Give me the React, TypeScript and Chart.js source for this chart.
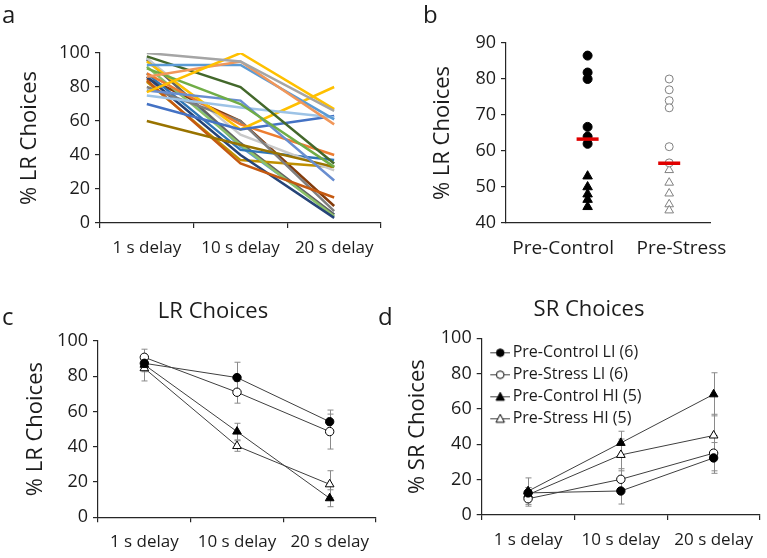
import React, { useEffect, useRef } from 'react';
import { Chart, registerables } from 'chart.js';

Chart.register(...registerables);

const FONT = "'Open Sans', sans-serif";
const TEXT = '#1c1c1c';
const AXIS = '#262626';
const LINE = '#3f3f3f';

// ---------- Panel a: individual animals ----------
const delayLabels = ['1 s delay', '10 s delay', '20 s delay'];
const subjectColors = [
  '#A5A5A5', '#FFC000', '#F1975A', '#5B9BD5', '#43682B', '#70AD47',
  '#698ED0', '#9DC3E6', '#4472C4', '#997300', '#FFC000', '#ED7D31',
  '#C55A11', '#7F7F7F', '#C9C9C9', '#2E75B6', '#264478', '#8CC168',
  '#BF9000', '#843C0C', '#636363', '#5B9BD5',
];
const subjectLR: number[][] = [
  [100, 95, 66], [77, 100, 67], [86, 95, 58], [93, 93, 61],
  [98, 80, 35], [91, 70, 33], [78, 72, 25], [75, 68, 62],
  [70, 55, 63], [60, 46, 33], [95, 55, 80], [88, 58, 40],
  [84, 35, 15], [80, 60, 7], [97, 52, 31], [88, 43, 37],
  [86, 40, 3], [92, 46, 4], [83, 37, 33], [85, 60, 10],
  [96, 47, 5], [97, 45, 5],
];

// ---------- Panel b: group scatter ----------
const bGroups = ['Pre-Control', 'Pre-Stress'];
const bLabelX = [0.28, 0.86];
const bPointX = [0.4, 0.8];
const preControlLI = [86.5, 81.8, 80, 66.7, 64, 62];
const preControlHI = [53, 50, 48, 46.5, 44.5];
const preStressLI = [80, 77, 74, 72, 61.2, 56.7];
const preStressHI = [54.7, 51.2, 48.2, 45.2, 43.5];
const bMeans = [63.3, 56.6];

// ---------- Panels c & d: group means ----------
const seriesNames = ['Pre-Control LI (6)', 'Pre-Stress LI (6)', 'Pre-Control HI (5)', 'Pre-Stress HI (5)'];
const lrPreControlLI = [87.3, 79.2, 54.2];
const lrPreStressLI = [90.7, 70.9, 48.6];
const lrPreControlHI = [86.5, 48.6, 10.8];
const lrPreStressHI = [84.5, 40.4, 18.7];
const lrErrPreControlLI = [3, 8.7, 6.6];
const lrErrPreStressLI = [4.6, 6.2, 9.9];
const lrErrPreControlHI = [4, 4.7, 4.8];
const lrErrPreStressHI = [7.2, 3, 7.7];

const srPreControlLI = [12.5, 13.6, 32.3];
const srPreStressLI = [9.2, 20.2, 35];
const srPreControlHI = [13.5, 40.8, 68.3];
const srPreStressHI = [11.5, 34, 45];
const srErrPreControlLI = [3, 7.4, 8.7];
const srErrPreStressLI = [4.2, 6, 10];
const srErrPreControlHI = [7.5, 6.6, 12.2];
const srErrPreStressHI = [4, 9, 12];

const markerStyles = [
  { style: 'circle', fill: '#000000', r: 4.2 },
  { style: 'circle', fill: '#ffffff', r: 4.2 },
  { style: 'triangle', fill: '#000000', r: 5 },
  { style: 'triangle', fill: '#ffffff', r: 5 },
];

const errorBarPlugin = {
  id: 'errorBars',
  beforeDatasetsDraw(chart: any) {
    const ctx = chart.ctx;
    const y = chart.scales.y;
    ctx.save();
    ctx.strokeStyle = '#8a8a8a';
    ctx.lineWidth = 1;
    chart.data.datasets.forEach((ds: any, i: number) => {
      const errs = ds.errorBars;
      if (!errs) return;
      const meta = chart.getDatasetMeta(i);
      meta.data.forEach((pt: any, j: number) => {
        const v = ds.data[j];
        const e = errs[j];
        const x = Math.round(pt.x) + 0.5;
        const top = y.getPixelForValue(v + e);
        const bot = y.getPixelForValue(v - e);
        ctx.beginPath();
        ctx.moveTo(x, top);
        ctx.lineTo(x, bot);
        ctx.moveTo(x - 3, top);
        ctx.lineTo(x + 3, top);
        ctx.moveTo(x - 3, bot);
        ctx.lineTo(x + 3, bot);
        ctx.stroke();
      });
    });
    ctx.restore();
  },
};

// Legend with position 'chartArea' is laid out from the top of the canvas when vertical;
// move it down to the plot area's top.
const legendInPlotPlugin = {
  id: 'legendInPlot',
  afterLayout(chart: any) {
    const lg = chart.legend;
    if (!lg || !lg.options.display) return;
    const h = lg.height;
    lg.top = chart.chartArea.top;
    lg.bottom = lg.top + h;
  },
};

function makeIcon(style: string, fill: string) {
  const c = document.createElement('canvas');
  c.width = 28;
  c.height = 12;
  const g = c.getContext('2d')!;
  g.strokeStyle = LINE;
  g.lineWidth = 1;
  g.beginPath();
  g.moveTo(8, 6.5);
  g.lineTo(28, 6.5);
  g.stroke();
  g.fillStyle = fill;
  g.strokeStyle = '#000';
  g.beginPath();
  if (style === 'circle') {
    g.arc(18, 6.5, 3.8, 0, Math.PI * 2);
  } else {
    g.moveTo(18, 2);
    g.lineTo(22.2, 10);
    g.lineTo(13.8, 10);
    g.closePath();
  }
  g.fill();
  g.stroke();
  return c;
}

const XTICK = 17;
const YTICK = 18;
const titleFont = { family: FONT, size: 22 };

function axisY(min: number, max: number, step: number, title: string, titlePad: number, width: number, fontSize = YTICK) {
  return {
    min,
    max,
    ticks: { stepSize: step, font: { family: FONT, size: fontSize }, color: TEXT, padding: 5 },
    grid: { drawOnChartArea: false, drawTicks: true, tickLength: 5, color: AXIS, lineWidth: 1.2 },
    border: { display: true, color: AXIS, width: 1.2 },
    title: { display: true, text: title, font: titleFont, color: TEXT, padding: { top: titlePad, bottom: 0 } },
    afterFit: (s: any) => {
      s.width = width;
    },
  };
}

function axisXCat(height: number, pad: number) {
  return {
    type: 'category',
    offset: true,
    grid: { offset: true, drawOnChartArea: false, drawTicks: true, tickLength: 5, color: AXIS, lineWidth: 1.2 },
    border: { display: true, color: AXIS, width: 1.2 },
    ticks: { font: { family: FONT, size: XTICK }, color: TEXT, padding: pad, maxRotation: 0, autoSkip: false },
    afterFit: (s: any) => {
      s.height = height;
    },
  };
}

function dummyRight(width: number) {
  return {
    type: 'linear',
    position: 'right',
    display: true,
    ticks: { display: false },
    grid: { display: false },
    border: { display: false },
    afterFit: (s: any) => {
      s.width = width;
    },
  };
}

function groupDatasets(vals: number[][], errs: number[][]) {
  return vals.map((v, i) => ({
    label: seriesNames[i],
    data: v,
    errorBars: errs[i],
    borderColor: LINE,
    borderWidth: 1,
    tension: 0,
    fill: false,
    pointStyle: markerStyles[i].style,
    pointRadius: markerStyles[i].r,
    pointBackgroundColor: markerStyles[i].fill,
    pointBorderColor: '#000',
    pointBorderWidth: 1,
  }));
}

export default function App() {
  const aRef = useRef<HTMLCanvasElement>(null);
  const bRef = useRef<HTMLCanvasElement>(null);
  const cRef = useRef<HTMLCanvasElement>(null);
  const dRef = useRef<HTMLCanvasElement>(null);

  useEffect(() => {
    const charts: Chart[] = [];

    charts.push(
      new Chart(aRef.current!, {
        type: 'line',
        data: {
          labels: delayLabels,
          datasets: subjectLR.map((vals, i) => ({
            data: vals,
            borderColor: subjectColors[i],
            borderWidth: 2.5,
            pointRadius: 0,
            tension: 0,
            fill: false,
          })),
        },
        options: {
          responsive: false,
          animation: false,
          layout: { padding: { left: 0, top: 53, right: 4, bottom: 0 } },
          plugins: { legend: { display: false }, tooltip: { enabled: false } },
          scales: {
            x: axisXCat(47, 10) as any,
            y: axisY(0, 100, 20, '% LR Choices', 17, 100) as any,
          },
        },
      })
    );

    charts.push(
      new Chart(bRef.current!, {
        type: 'scatter',
        data: {
          datasets: [
            {
              data: bMeans.map((v, i) => ({ x: bPointX[i], y: v })),
              pointStyle: 'line',
              pointRadius: 11,
              borderColor: '#E00000',
              backgroundColor: '#E00000',
              borderWidth: 3.5,
              order: -1,
            } as any,
            {
              data: preControlLI.map((v) => ({ x: bPointX[0], y: v })),
              pointStyle: 'circle',
              pointRadius: 4.5,
              backgroundColor: '#000',
              borderColor: '#000',
            },
            {
              data: preControlHI.map((v) => ({ x: bPointX[0], y: v })),
              pointStyle: 'triangle',
              pointRadius: 5.5,
              backgroundColor: '#000',
              borderColor: '#000',
            },
            {
              data: preStressLI.map((v) => ({ x: bPointX[1], y: v })),
              pointStyle: 'circle',
              pointRadius: 4,
              backgroundColor: '#fff',
              borderColor: '#808080',
              borderWidth: 1,
            },
            {
              data: preStressHI.map((v) => ({ x: bPointX[1], y: v })),
              pointStyle: 'triangle',
              pointRadius: 5,
              backgroundColor: '#fff',
              borderColor: '#808080',
              borderWidth: 1,
            },
          ],
        },
        options: {
          responsive: false,
          animation: false,
          layout: { padding: { left: 36, top: 43, right: 57, bottom: 0 } },
          plugins: { legend: { display: false }, tooltip: { enabled: false } },
          scales: {
            x: {
              type: 'linear',
              min: 0,
              max: 1,
              afterBuildTicks: (s: any) => {
                s.ticks = bLabelX.map((v) => ({ value: v }));
              },
              ticks: {
                callback: (_v: any, i: number) => bGroups[i],
                font: { family: FONT, size: 19 },
                color: TEXT,
                padding: 6,
                autoSkip: false,
                maxRotation: 0,
              },
              grid: { display: false },
              border: { display: true, color: AXIS, width: 1.2 },
              afterFit: (s: any) => {
                s.height = 47;
              },
            } as any,
            y: axisY(40, 90, 10, '% LR Choices', 14, 90, 18) as any,
          },
        },
      })
    );

    charts.push(
      new Chart(cRef.current!, {
        type: 'line',
        data: {
          labels: delayLabels,
          datasets: groupDatasets(
            [lrPreControlLI, lrPreStressLI, lrPreControlHI, lrPreStressHI],
            [lrErrPreControlLI, lrErrPreStressLI, lrErrPreControlHI, lrErrPreStressHI]
          ) as any,
        },
        plugins: [errorBarPlugin],
        options: {
          responsive: false,
          animation: false,
          layout: { padding: 0 },
          plugins: {
            legend: { display: false },
            tooltip: { enabled: false },
            title: {
              display: true,
              text: 'LR Choices',
              font: { family: FONT, size: 22, weight: 'normal' },
              color: TEXT,
              padding: { top: 28.5, bottom: 16 },
            },
          },
          scales: {
            x: axisXCat(40.7, 10) as any,
            y: axisY(0, 100, 20, '% LR Choices', 23, 98) as any,
            y2: dummyRight(50) as any,
          },
        },
      })
    );

    const icons = markerStyles.map((m) => makeIcon(m.style, m.fill));

    charts.push(
      new Chart(dRef.current!, {
        type: 'line',
        data: {
          labels: delayLabels,
          datasets: groupDatasets(
            [srPreControlLI, srPreStressLI, srPreControlHI, srPreStressHI],
            [srErrPreControlLI, srErrPreStressLI, srErrPreControlHI, srErrPreStressHI]
          ) as any,
        },
        plugins: [errorBarPlugin, legendInPlotPlugin],
        options: {
          responsive: false,
          animation: false,
          layout: { padding: 0 },
          plugins: {
            tooltip: { enabled: false },
            title: {
              display: true,
              text: 'SR Choices',
              font: { family: FONT, size: 22, weight: 'normal' },
              color: TEXT,
              padding: { top: 26.8, bottom: 15.1 },
            },
            legend: {
              display: true,
              position: 'chartArea' as any,
              align: 'start',
              labels: {
                usePointStyle: true,
                pointStyleWidth: 17,
                boxHeight: 12,
                padding: 6,
                font: { family: FONT, size: 16 },
                color: TEXT,
                generateLabels: (chart: any) =>
                  Chart.defaults.plugins.legend.labels
                    .generateLabels(chart)
                    .map((l: any, i: number) => ({ ...l, pointStyle: icons[i] })),
              },
            },
          },
          scales: {
            x: axisXCat(43, 10) as any,
            y: axisY(0, 100, 20, '% SR Choices', 5, 81.7) as any,
            y2: dummyRight(18) as any,
          },
        },
      })
    );

    return () => charts.forEach((c) => c.destroy());
  }, []);

  const label = (t: string, left: number, top: number) => (
    <div
      style={{
        position: 'absolute',
        left,
        top,
        fontFamily: FONT,
        fontSize: 24,
        lineHeight: '24px',
        color: TEXT,
      }}
    >
      {t}
    </div>
  );

  return (
    <div
      style={{
        position: 'fixed',
        left: 0,
        top: 0,
        width: 767,
        height: 558,
        overflow: 'hidden',
        background: '#fff',
      }}
    >
      <canvas ref={aRef} width={385} height={270} style={{ position: 'absolute', left: 0, top: 0 }} />
      <canvas ref={bRef} width={387} height={270} style={{ position: 'absolute', left: 380, top: 0 }} />
      <canvas ref={cRef} width={426} height={288} style={{ position: 'absolute', left: 0, top: 270 }} />
      <canvas ref={dRef} width={378} height={288} style={{ position: 'absolute', left: 400, top: 270 }} />
      {label('a', 2, 2)}
      {label('b', 423, 2)}
      {label('c', 2, 304)}
      {label('d', 378, 304)}
    </div>
  );
}
